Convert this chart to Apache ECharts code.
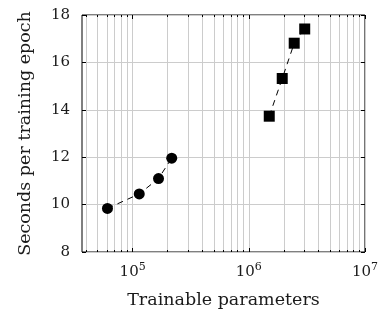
<!DOCTYPE html>
<html>
<head>
<meta charset="utf-8">
<script src="https://cdn.jsdelivr.net/npm/echarts@6/dist/echarts.min.js"></script>
<style>
  html, body { margin: 0; padding: 0; background: #fff; }
  #chart { width: 381px; height: 314px; }
</style>
</head>
<body>
<div id="chart"></div>
<script>
// small models (circles) and large models (squares)
var smallParams = [60700, 114000, 167000, 217000];
var smallSeconds = [9.84, 10.45, 11.10, 11.96];
var largeParams = [1500000, 1940000, 2460000, 3030000];
var largeSeconds = [13.73, 15.32, 16.81, 17.41];

var majorTicks = [1e5, 1e6, 1e7];
var minorTicks = [4e4, 5e4, 6e4, 7e4, 8e4, 9e4,
                  2e5, 3e5, 4e5, 5e5, 6e5, 7e5, 8e5, 9e5,
                  2e6, 3e6, 4e6, 5e6, 6e6, 7e6, 8e6, 9e6];
var yTicks = [8, 10, 12, 14, 16, 18];

var xMin = 36650, xMax = 1e7;
var font = 'DejaVu Serif';
var textColor = '#1a1a1a';
var gridColor = '#cccccc';

function pairs(xs, ys) {
  return xs.map(function (x, i) { return [x, ys[i]]; });
}

function xAxisOf(pos, ticks, len, labels) {
  var ax = {
    type: 'log',
    logBase: 10,
    position: pos,
    min: xMin,
    max: xMax,
    axisLine: { show: false },
    axisTick: { show: true, inside: true, length: len, customValues: ticks,
                lineStyle: { color: '#000', width: 1 } },
    axisLabel: { show: false },
    splitLine: { show: pos === 'bottom', lineStyle: { color: gridColor, width: 1 } }
  };
  if (labels) {
    ax.axisLabel = {
      show: true,
      customValues: majorTicks,
      margin: 10,
      fontFamily: font,
      fontSize: 15,
      color: textColor,
      formatter: function (v) {
        return '10{sup|' + Math.round(Math.log10(v)) + '}';
      },
      rich: {
        sup: { fontFamily: font, fontSize: 11, color: textColor, padding: [0, 0, 9, 0] }
      }
    };
    ax.name = 'Trainable parameters';
    ax.nameLocation = 'middle';
    ax.nameGap = 39;
    ax.nameTextStyle = { fontFamily: font, fontSize: 17.5, color: textColor };
  }
  return ax;
}

var myecharts = echarts.init(document.getElementById('chart'));
var option = {
  animation: false,
  grid: {
    left: 82, right: 14, top: 15, bottom: 62,
    show: true, borderColor: '#000', borderWidth: 1, backgroundColor: 'transparent'
  },
  xAxis: [
    xAxisOf('bottom', majorTicks, 4, true),
    xAxisOf('bottom', minorTicks, 2, false),
    xAxisOf('top', majorTicks, 4, false),
    xAxisOf('top', minorTicks, 2, false)
  ],
  yAxis: [{
    type: 'value',
    min: yTicks[0], max: yTicks[yTicks.length - 1], interval: 2,
    position: 'left',
    name: 'Seconds per training epoch',
    nameLocation: 'middle',
    nameGap: 48,
    nameTextStyle: { fontFamily: font, fontSize: 17.5, color: textColor },
    axisLine: { show: false },
    axisTick: { show: true, inside: true, length: 4, lineStyle: { color: '#000' } },
    axisLabel: { fontFamily: font, fontSize: 15, color: textColor, margin: 12 },
    splitLine: { show: true, lineStyle: { color: gridColor, width: 1 } }
  }, {
    type: 'value',
    min: yTicks[0], max: yTicks[yTicks.length - 1], interval: 2,
    position: 'right',
    axisLine: { show: false },
    axisTick: { show: true, inside: true, length: 4, lineStyle: { color: '#000' } },
    axisLabel: { show: false },
    splitLine: { show: false }
  }],
  series: [{
    name: 'small',
    type: 'line',
    xAxisIndex: 0,
    yAxisIndex: 0,
    data: pairs(smallParams, smallSeconds),
    symbol: 'circle',
    symbolSize: 11,
    itemStyle: { color: '#000' },
    lineStyle: { color: '#000', width: 1, type: [6, 5] },
    z: 5
  }, {
    name: 'large',
    type: 'line',
    xAxisIndex: 0,
    yAxisIndex: 0,
    data: pairs(largeParams, largeSeconds),
    symbol: 'rect',
    symbolSize: 11,
    itemStyle: { color: '#000' },
    lineStyle: { color: '#000', width: 1, type: [6, 5] },
    z: 5
  }]
};
myecharts.setOption(option);
</script>
</body>
</html>
